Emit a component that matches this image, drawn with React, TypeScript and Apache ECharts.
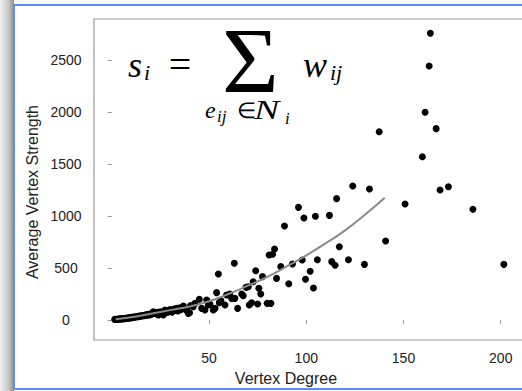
import React, { useEffect, useRef } from "react";
import * as echarts from "echarts";

const scatterPoints: [number, number][] = [
  [1.5, 6], [2, 8], [2.5, 5], [3, 9], [3.5, 7], [4, 11], [4.5, 9], [5, 13], [5.5, 11], [6, 15],
  [6.5, 13], [7, 17], [7.5, 15], [8, 19], [8.5, 21], [9, 18], [9.5, 23], [10, 25], [10.5, 22],
  [11, 28], [11.5, 26], [12, 31], [12.5, 29], [13, 34], [13.5, 32], [14, 37], [14.5, 35], [15, 40],
  [15.5, 38], [16, 43], [16.5, 41], [17, 46], [17.5, 50], [18, 44], [18.5, 53], [19, 56], [19.5, 49],
  [20, 60], [20.5, 55], [21.3, 80], [22, 62], [22.5, 70], [23, 58], [23.5, 74], [24, 48], [24.5, 66],
  [25, 78], [26, 70], [26.5, 48], [27.3, 96], [28, 82], [28.5, 72], [29, 90], [30, 100], [30.5, 84],
  [31, 76], [32, 106], [32.5, 92], [33.3, 112], [34, 88], [35, 118], [35.5, 100], [36.8, 135],
  [37.5, 108], [38.5, 92], [39.3, 64], [40, 70], [40.5, 140], [41.9, 128], [42.8, 160],
  [45, 199], [46.2, 112], [47.9, 96], [48.8, 192], [49.6, 144], [50.5, 150], [52.2, 96], [53.1, 112],
  [53.9, 263], [54.8, 442], [55.3, 167], [56.1, 186], [58.2, 144], [59, 240], [60.7, 250], [61.6, 208],
  [63, 545], [63.3, 208], [64.7, 112], [66.8, 250], [67.6, 234], [69, 314], [70.2, 320], [70.7, 144],
  [71.9, 166], [72.7, 368], [74, 474], [75, 154], [75.6, 305], [76.6, 250], [77.5, 417], [79.9, 160],
  [81.8, 160], [80.9, 625], [82.7, 632], [83.7, 683], [84.7, 400], [86.9, 513], [88.8, 904], [91, 349],
  [92.9, 538], [96, 1083], [97.9, 577], [98.8, 981], [99.6, 391], [102, 468], [103.7, 308], [104.7, 997],
  [105.7, 580], [111.9, 1006], [113.1, 561], [114.8, 526], [115.6, 1167], [117, 705], [121.7, 580],
  [123.9, 1288], [129.9, 535], [132.5, 1260], [137.5, 1810], [140.8, 760], [150.8, 1115], [159.7, 1570],
  [161.1, 1997], [163.2, 2442], [163.8, 2757], [166.8, 1840], [168.8, 1250], [173.1, 1282],
  [185.7, 1064], [201.6, 535],
];

const fitDegree = [2, 10, 20, 30, 40, 50, 60, 70, 80, 90, 100, 110, 120, 130, 140.4];
const fitStrength = [8, 26, 60, 95, 130, 180, 250, 330, 415, 515, 622, 738, 862, 1010, 1176];

const xTicks = [50, 100, 150, 200];
const yTicks = [0, 500, 1000, 1500, 2000, 2500];

const xTitle = "Vertex Degree";
const yTitle = "Average Vertex Strength";

const SERIF = "Liberation Serif";
const SANS = "Liberation Sans";

function txt(text: string, x: number, y: number, fontSize: number, opts: any = {}) {
  const align = opts.align || "left";
  return {
    type: "text",
    x,
    y,
    rotation: opts.rotation || 0,
    scaleX: opts.scaleX || 1,
    silent: true,
    z: 100,
    style: {
      text,
      fontSize,
      fontFamily: opts.fontFamily || SERIF,
      fontStyle: opts.italic ? "italic" : "normal",
      fill: opts.fill || "#000",
      align,
      verticalAlign: "middle",
      textAlign: align,
      textVerticalAlign: "middle",
    },
  };
}

export default function App() {
  const ref = useRef<HTMLDivElement>(null);
  useEffect(() => {
    if (!ref.current) return;
    const chart = echarts.init(ref.current, null, { renderer: "svg" });
    const blue = "#5a8ef0";
    const option: any = {
      animation: false,
      backgroundColor: "#fff",
      grid: {
        left: 94,
        top: 19,
        right: 10,
        bottom: 51,
        show: true,
        borderColor: "#9a9a9a",
        borderWidth: 1.2,
        containLabel: false,
        outerBoundsMode: "none",
      },
      xAxis: {
        type: "value",
        min: -9.15,
        max: 215.05,
        offset: 2,
        axisLine: { show: false },
        splitLine: { show: false },
        axisTick: { show: true, length: 4, lineStyle: { color: "#999" }, customValues: xTicks },
        axisLabel: {
          show: true,
          customValues: xTicks,
          formatter: (v: number) => String(v),
          margin: 9,
          fontSize: 14,
          fontFamily: SANS,
          color: "#222",
        },
      },
      yAxis: {
        type: "value",
        min: -192.3,
        max: 2894.2,
        offset: 2,
        axisLine: { show: false },
        splitLine: { show: false },
        axisTick: { show: true, length: 4, lineStyle: { color: "#999" }, customValues: yTicks },
        axisLabel: {
          show: true,
          customValues: yTicks,
          formatter: (v: number) => String(v),
          margin: 26,
          align: "center",
          verticalAlign: "middle",
          fontSize: 14,
          fontFamily: SANS,
          color: "#222",
        },
      },
      series: [
        {
          type: "scatter",
          data: scatterPoints,
          symbol: "circle",
          symbolSize: 7,
          itemStyle: { color: "#000", opacity: 1 },
          silent: true,
          z: 2,
        },
        {
          type: "line",
          data: fitDegree.map((d, i) => [d, fitStrength[i]]),
          smooth: true,
          showSymbol: false,
          symbol: "none",
          lineStyle: { color: "#8a8a8a", width: 2 },
          silent: true,
          z: 3,
        },
      ],
      graphic: [
        {
          type: "rect",
          shape: { x: 0, y: 0, width: 14, height: 391 },
          silent: true,
          z: 50,
          style: {
            fill: new echarts.graphic.LinearGradient(0, 0, 1, 0, [
              { offset: 0, color: "#f2f2f2" },
              { offset: 0.6, color: "#c8c8c8" },
              { offset: 1, color: "#8e8e8e" },
            ]),
          },
        },
        {
          type: "rect",
          shape: { x: 14, y: 0, width: 530, height: 5 },
          silent: true,
          z: 50,
          style: { fill: "#f7f7f7" },
        },
        {
          type: "line",
          shape: { x1: 14, y1: 5, x2: 540, y2: 5 },
          silent: true,
          z: 51,
          style: { stroke: blue, lineWidth: 2 },
        },
        {
          type: "line",
          shape: { x1: 14, y1: 5, x2: 14, y2: 389 },
          silent: true,
          z: 51,
          style: { stroke: blue, lineWidth: 2 },
        },
        {
          type: "line",
          shape: { x1: 14, y1: 389, x2: 540, y2: 389 },
          silent: true,
          z: 51,
          style: { stroke: blue, lineWidth: 2 },
        },
        txt(xTitle, 286, 378, 16, { fontFamily: SANS, align: "center", fill: "#222" }),
        txt(yTitle, 32, 192, 16, { fontFamily: SANS, align: "center", rotation: Math.PI / 2, fill: "#222" }),
        // formula
        txt("s", 128, 64.8, 36, { italic: true }),
        txt("i", 144, 72.6, 22, { italic: true }),
        txt("=", 180, 64, 40, { align: "center" }),
        txt("\u03A3", 250.5, 60.5, 93, { align: "center", scaleX: 1.05 }),
        txt("w", 303, 64.8, 36, { italic: true }),
        txt("ij", 330, 72.6, 22, { italic: true }),
        txt("e", 205, 110, 24, { italic: true }),
        txt("ij", 217, 116.2, 17, { italic: true }),
        txt("\u2208", 237, 110, 22),
        txt("N", 254, 109, 28, { italic: true, scaleX: 1.35 }),
        txt("i", 285, 118, 17, { italic: true }),
      ],
    };
    chart.setOption(option);
    return () => chart.dispose();
  }, []);
  return (
    <div
      style={{
        position: "fixed",
        left: 0,
        top: 0,
        width: 522,
        height: 391,
        overflow: "hidden",
        background: "#fff",
      }}
    >
      <div ref={ref} style={{ width: 540, height: 391 }} />
    </div>
  );
}
